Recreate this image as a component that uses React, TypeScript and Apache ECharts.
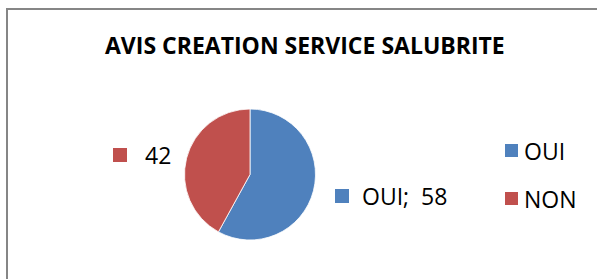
import React, { useEffect, useRef } from "react";
import * as echarts from "echarts";

const titleText = "AVIS CREATION SERVICE SALUBRITE";
const categories = ["OUI", "NON"];
const values = [58, 42];
const colors = ["#4F81BD", "#C0504D"];
const labelTexts = ["OUI;  58", "42"];

export default function App() {
  const ref = useRef<HTMLDivElement>(null);
  useEffect(() => {
    if (!ref.current) return;
    const chart = echarts.init(ref.current, undefined, { renderer: "svg" });
    const font = "'Open Sans', 'Liberation Sans', sans-serif";
    const gaps = [13, 18];
    chart.setOption({
      animation: false,
      backgroundColor: "#ffffff",
      title: {
        text: titleText,
        left: 100,
        top: 27,
        textStyle: {
          fontFamily: font,
          fontWeight: "bold",
          fontSize: 23,
          color: "#000000",
          lineHeight: 25,
        },
      },
      legend: {
        orient: "vertical",
        left: 505,
        top: 139,
        padding: 0,
        icon: "rect",
        itemWidth: 13,
        itemHeight: 13,
        itemGap: 25,
        itemStyle: { borderWidth: 0 },
        data: categories,
        textStyle: {
          fontFamily: font,
          fontSize: 23,
          color: "#000000",
          lineHeight: 23,
          padding: [0, 0, 0, 1],
        },
      },
      graphic: [
        {
          type: "rect",
          silent: true,
          shape: { x: 7, y: 9, width: 700, height: 400 },
          style: { fill: "none", stroke: "#868686", lineWidth: 2 },
        },
      ],
      series: [
        {
          type: "pie",
          center: [250, 174.5],
          radius: 65.5,
          startAngle: 90,
          clockwise: true,
          itemStyle: { borderColor: "#ffffff", borderWidth: 0.8 },
          labelLine: { show: false },
          label: {
            show: true,
            position: "outside",
            formatter: (p: any) => "{m|}{g|}{t|" + labelTexts[p.dataIndex] + "}",
            rich: {
              m: { width: 14, height: 14 },
              g: { width: 15, height: 14 },
              t: { fontFamily: font, fontSize: 23, color: "#000000", lineHeight: 24 },
            },
          },
          labelLayout: (p: any) => {
            if (p.dataIndex === 0) {
              return { x: 335, y: 196, align: "left", verticalAlign: "middle" };
            }
            return { x: 113, y: 155, align: "left", verticalAlign: "middle" };
          },
          data: categories.map((c, i) => ({
            name: c,
            value: values[i],
            itemStyle: { color: colors[i] },
            label: {
              rich: {
                m: { width: 14, height: 14, backgroundColor: colors[i] },
                g: { width: gaps[i], height: 14 },
                t: { fontFamily: font, fontSize: 23, color: "#000000", lineHeight: 24 },
              },
            },
          })),
        },
      ],
    });
    return () => chart.dispose();
  }, []);
  return (
    <div
      ref={ref}
      style={{ position: "fixed", left: 0, top: 0, width: 597, height: 279 }}
    />
  );
}
